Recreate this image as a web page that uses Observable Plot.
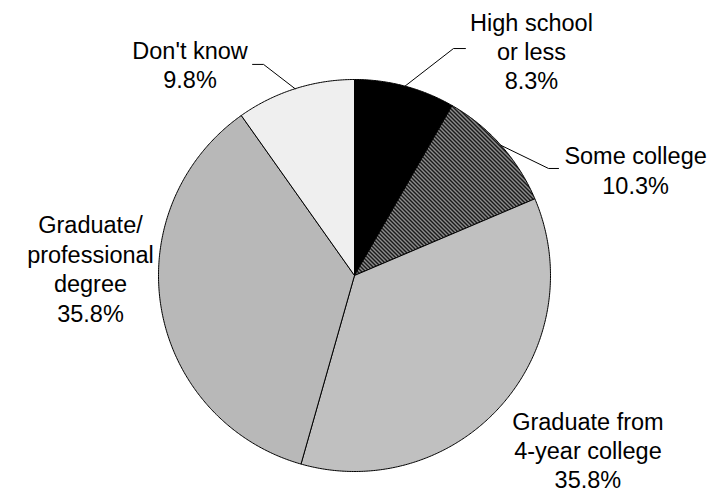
<!DOCTYPE html>
<html>
<head>
<meta charset="utf-8">
<script src="https://cdn.jsdelivr.net/npm/d3@7"></script>
<script src="https://cdn.jsdelivr.net/npm/@observablehq/plot@0.6"></script>
<style>
  html, body { margin: 0; padding: 0; background: #fff; }
</style>
</head>
<body>
<div id="chart"></div>
<script>
// ---- data ----
const categories = ["High school\nor less", "Some college", "Graduate from\n4-year college", "Graduate/\nprofessional\ndegree", "Don't know"];
const shares = [8.3, 10.3, 35.8, 35.8, 9.8];
const fills = ["#000", "url(#hatch)", "#c0c0c0", "url(#dots)", "url(#light)"];

// ---- layout (unit-radius coordinates) ----
const labelPos = [[0.903, 1.148], [1.434, 0.541], [1.191, -0.888], [-1.347, 0.038], [-0.839, 1.077]];
const leaderElbow = [[0.505, 1.158], [0.990, 0.546], null, null, [-0.464, 1.077]];
const leaderEnd = [[0.566, 1.158], [1.041, 0.546], null, null, [-0.520, 1.077]];

const arcs = d3.pie().sort(null).value(d => d)(shares);
const pt = a => [Math.sin(a), Math.cos(a)];

const slices = arcs.map((a, i) => {
  const n = Math.max(2, Math.ceil((a.endAngle - a.startAngle) / (Math.PI / 360)));
  const pts = [[0, 0]];
  for (let k = 0; k <= n; k++) pts.push(pt(a.startAngle + (a.endAngle - a.startAngle) * k / n));
  pts.push([0, 0]);
  return pts.map(([x, y]) => ({x, y, i}));
});

const leaders = [];
arcs.forEach((a, i) => {
  if (!leaderElbow[i]) return;
  const mid = (a.startAngle + a.endAngle) / 2;
  const [sx, sy] = pt(mid);
  leaders.push({x: sx, y: sy, i}, {x: leaderElbow[i][0], y: leaderElbow[i][1], i}, {x: leaderEnd[i][0], y: leaderEnd[i][1], i});
});

const labels = categories.map((c, i) => ({
  text: c + "\n" + shares[i].toFixed(1) + "%",
  x: labelPos[i][0], y: labelPos[i][1]
}));

const svg = Plot.plot({
  width: 710,
  height: 493,
  margin: 0,
  style: {background: "#fff", fontFamily: "Arial, 'Liberation Sans', sans-serif"},
  x: {domain: [-1, 1], range: [158, 550], axis: null},
  y: {domain: [-1, 1], range: [471, 79], axis: null},
  marks: [
    ...slices.map((s, i) => Plot.line(s, {x: "x", y: "y", fill: fills[i], stroke: "#000", strokeWidth: 1, strokeLinejoin: "round"})),
    Plot.line(leaders, {x: "x", y: "y", z: "i", stroke: "#000", strokeWidth: 1}),
    Plot.text(labels, {x: "x", y: "y", text: "text", fontSize: 23.5, lineHeight: 1.25, lineAnchor: "middle", textAnchor: "middle", fill: "#000"})
  ]
});

svg.insertAdjacentHTML("afterbegin", `
<defs>
  <pattern id="hatch" patternUnits="userSpaceOnUse" width="4" height="4">
    <rect width="4" height="4" fill="#1a1a1a"/>
    <path d="M-1,-1 L5,5 M-1,3 L1,5 M3,-1 L5,1" stroke="#fff" stroke-width="1"/>
  </pattern>
  <pattern id="dots" patternUnits="userSpaceOnUse" width="2" height="2">
    <rect width="2" height="2" fill="#a0a0a0"/>
    <rect width="1" height="1" fill="#fff"/>
  </pattern>
  <pattern id="light" patternUnits="userSpaceOnUse" width="2" height="2">
    <rect width="2" height="2" fill="#fff"/>
    <rect width="1" height="1" fill="#c0c0c0"/>
  </pattern>
</defs>`);

document.getElementById("chart").appendChild(svg);
</script>
</body>
</html>
